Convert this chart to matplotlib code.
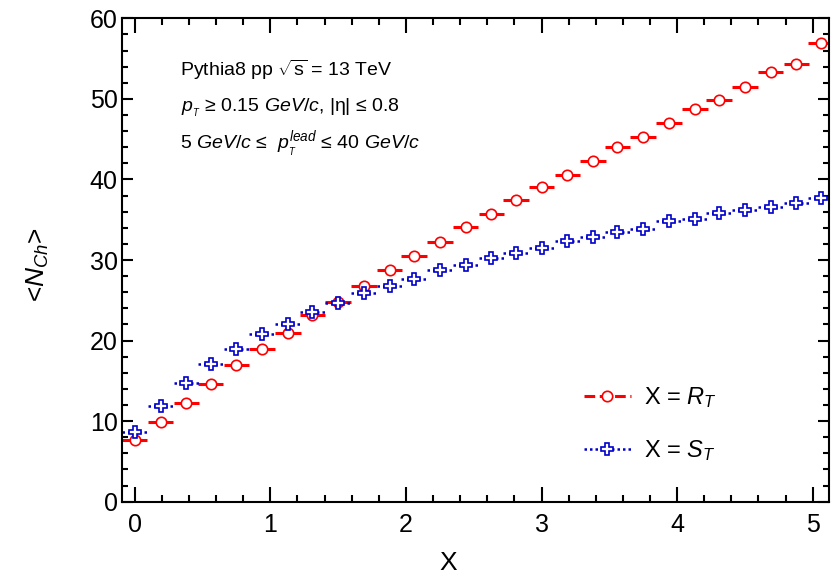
import matplotlib.pyplot as plt
from matplotlib.lines import Line2D
from matplotlib.ticker import MultipleLocator

plt.rcParams["font.family"] = ["Liberation Sans", "DejaVu Sans"]
plt.rcParams["mathtext.fontset"] = "custom"
plt.rcParams["mathtext.rm"] = "Liberation Sans"
plt.rcParams["mathtext.it"] = "Liberation Sans:italic"
plt.rcParams["mathtext.bf"] = "Liberation Sans:bold"

# bin centres of X (R_T or S_T)
x_bins = [0.00, 0.19, 0.38, 0.56, 0.75, 0.94, 1.13, 1.31, 1.50, 1.69,
          1.88, 2.06, 2.25, 2.44, 2.63, 2.81, 3.00, 3.19, 3.38, 3.56,
          3.75, 3.94, 4.13, 4.31, 4.50, 4.69, 4.88, 5.06]

# <N_ch> vs R_T
nch_rt = [7.6, 9.9, 12.2, 14.6, 17.0, 19.0, 21.0, 23.2, 24.8, 26.8,
          28.8, 30.5, 32.2, 34.1, 35.7, 37.5, 39.1, 40.6, 42.3, 44.0,
          45.3, 47.0, 48.7, 49.9, 51.5, 53.4, 54.3, 57.0]

# <N_ch> vs S_T
nch_st = [8.7, 11.9, 14.7, 17.1, 19.0, 20.8, 22.1, 23.5, 24.7, 25.9,
          26.8, 27.6, 28.8, 29.4, 30.2, 30.9, 31.5, 32.4, 32.9, 33.5,
          33.9, 34.8, 35.1, 35.8, 36.2, 36.6, 37.1, 37.7]

half_bin = 0.094

fig = plt.figure(figsize=(8.31, 5.73), dpi=100)
ax = fig.add_axes([0.1468, 0.1244, 0.8508, 0.8436])

eb_rt = ax.errorbar(x_bins, nch_rt, xerr=half_bin, fmt="o", color="red",
                    mfc="white", mec="red", ms=7.5, mew=1.2, elinewidth=2.2,
                    capsize=0)
eb_rt[2][0].set_linestyle((0, (3.5, 1.5)))

eb_st = ax.errorbar(x_bins, nch_st, xerr=half_bin, fmt="P", color="#0000cc",
                    mfc="white", mec="#0000cc", ms=8, mew=1.2, elinewidth=1.8,
                    capsize=0)
eb_st[2][0].set_linestyle((0, (1, 1.2)))

ax.set_xlim(-0.094, 5.12)
ax.set_ylim(0, 60)

ax.xaxis.set_major_locator(MultipleLocator(1))
ax.xaxis.set_minor_locator(MultipleLocator(0.2))
ax.yaxis.set_major_locator(MultipleLocator(10))
ax.yaxis.set_minor_locator(MultipleLocator(2))

ax.tick_params(which="both", direction="in", top=True, right=True,
               labelsize=18, width=1.5)
ax.tick_params(axis="x", which="major", length=11, pad=8)
ax.tick_params(axis="x", which="minor", length=5)
ax.tick_params(axis="y", which="major", length=8, pad=3)
ax.tick_params(axis="y", which="minor", length=4.5)
for sp in ax.spines.values():
    sp.set_linewidth(1.5)

ax.set_xlabel("X", fontsize=19)
ax.xaxis.set_label_coords(0.462, -0.101)
ax.set_ylabel(r"<$N_{Ch}$>", fontsize=19)
ax.yaxis.set_label_coords(-0.101, 0.49)

# generator and kinematic cuts
ax.text(0.082, 0.893, r"Pythia8 pp $\sqrt{\mathrm{s}}$ = 13 TeV",
        transform=ax.transAxes, fontsize=14, va="center")
ax.text(0.083, 0.815, r"$p_{_T}$ ≥ 0.15 $GeV/c$, |η| ≤ 0.8",
        transform=ax.transAxes, fontsize=14, va="center")
ax.text(0.082, 0.738, r"5 $GeV/c$ ≤  $p_{_T}^{lead}$ ≤ 40 $GeV/c$",
        transform=ax.transAxes, fontsize=14, va="center")

handles = [
    Line2D([], [], color="red", ls=(0, (3.5, 1.5)), lw=2.2, marker="o",
           ms=7.5, mfc="white", mec="red", mew=1.2),
    Line2D([], [], color="#0000cc", ls=(0, (1, 1.2)), lw=1.8, marker="P",
           ms=8, mfc="white", mec="#0000cc", mew=1.2),
]
ax.legend(handles, [r"X = $R_{T}$", r"X = $S_{T}$"], loc="upper left",
          bbox_to_anchor=(0.623, 0.285), frameon=False, fontsize=17,
          handlelength=2.0, handletextpad=0.55, labelspacing=1.2)

fig.savefig("out.png", dpi=100)
